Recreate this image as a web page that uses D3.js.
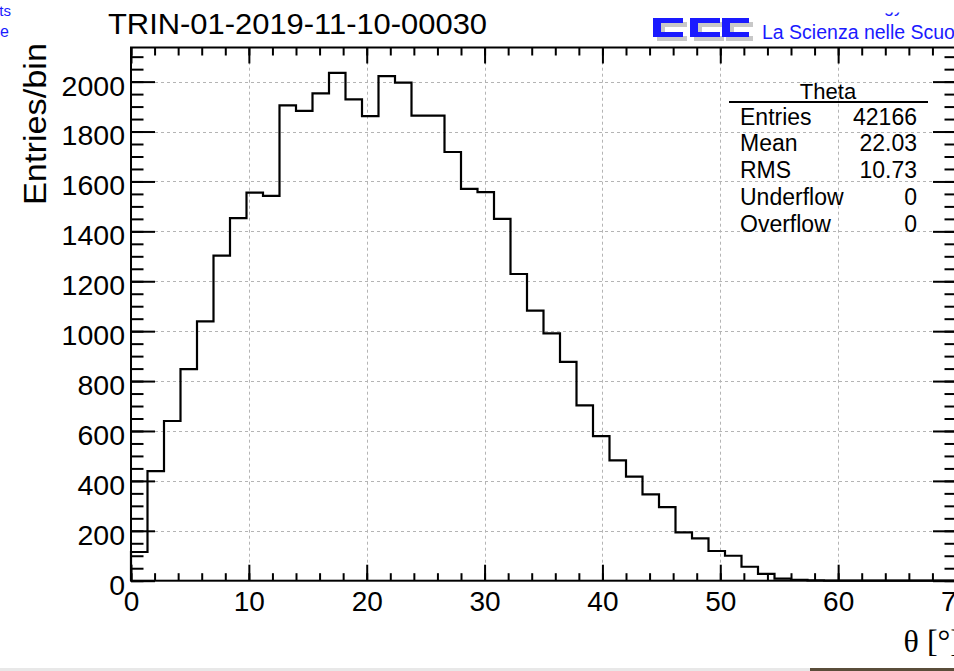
<!DOCTYPE html>
<html><head><meta charset="utf-8">
<script src="https://cdn.jsdelivr.net/npm/d3@7"></script>
<style>body{margin:0;background:#fff;overflow:hidden;} svg{display:block;}</style>
</head><body>
<svg id="c" width="954" height="671"></svg>
<script>
// ---- data ----
const title = "TRIN-01-2019-11-10-00030";
const xTitle = "θ [°]";
const yTitle = "Entries/bin";
const binWidth = 1.4;
const xDomain = [0, 70];
const counts = [115, 439, 640, 848, 1039, 1303, 1453, 1555, 1542, 1905,
                1883, 1953, 2035, 1929, 1862, 2022, 1996, 1864, 1864, 1718,
                1570, 1557, 1450, 1229, 1082, 991, 877, 703, 579, 482,
                417, 346, 295, 194, 170, 119, 100, 56, 27, 8,
                3, 1, 0, 0, 0, 0, 0, 0, 0, 0];
const xMajorTicks = [0, 10, 20, 30, 40, 50, 60, 70];
const xMinorTicks = d3.range(0, 70.01, 2);
const yMajorTicks = [0, 200, 400, 600, 800, 1000, 1200, 1400, 1600, 1800, 2000];
const yMinorTicks = d3.range(0, 2101, 50);
const statsName = "Theta";
const statsLabels = ["Entries", "Mean", "RMS", "Underflow", "Overflow"];
const statsValues = ["42166", "22.03", "10.73", "0", "0"];
const logoText = "La Scienza nelle Scuola";

// ---- layout ----
const svg = d3.select("#c");
const F = "'Liberation Sans', Arial, Helvetica, sans-serif";
const L = 131, R = 956, B = 580.7, T = 47.5;
const yMax = d3.max(counts) * 1.05;
const x = d3.scaleLinear().domain(xDomain).range([L, R]);
const y = d3.scaleLinear().domain([0, yMax]).range([B, T]);

// grid
const grid = svg.append("g").attr("stroke", "#b4b4b4").attr("stroke-width", 1)
  .attr("stroke-dasharray", "3,3");
grid.selectAll("line.gx").data(xMajorTicks.filter(v => v > 0 && v < 70)).join("line")
  .attr("x1", d => Math.round(x(d)) + 0.5).attr("x2", d => Math.round(x(d)) + 0.5)
  .attr("y1", B).attr("y2", T);
grid.selectAll("line.gy").data(yMajorTicks.filter(v => v > 0)).join("line")
  .attr("y1", d => Math.round(y(d)) + 0.5).attr("y2", d => Math.round(y(d)) + 0.5)
  .attr("x1", L).attr("x2", R);

// histogram
const pts = [[0, 0]].concat(counts.map((c, i) => [i * binWidth, c]))
  .concat([[xDomain[1], counts[counts.length - 1]], [xDomain[1], 0]]);
const line = d3.line().x(d => x(d[0])).y(d => y(d[1])).curve(d3.curveStepAfter);
svg.append("path").attr("d", line(pts)).attr("fill", "none")
  .attr("stroke", "#000").attr("stroke-width", 2.2);

// axes
function styleAxis(g, fs) {
  g.select(".domain").remove();
  g.selectAll("line").attr("stroke", "#000").attr("stroke-width", 2);
  g.selectAll("text").attr("font-family", F).attr("font-size", fs).attr("fill", "#000");
}
// bottom
const gB = svg.append("g").attr("transform", `translate(0,${B})`);
gB.call(d3.axisBottom(x).tickValues(xMinorTicks).tickSize(-7.5).tickFormat(""));
styleAxis(gB);
const gB2 = svg.append("g").attr("transform", `translate(0,${B})`);
gB2.call(d3.axisBottom(x).tickValues(xMajorTicks).tickSize(-16).tickPadding(10.5).tickFormat(d3.format("d")));
styleAxis(gB2, 28);
// top
const gT = svg.append("g").attr("transform", `translate(0,${T})`);
gT.call(d3.axisTop(x).tickValues(xMinorTicks).tickSize(-8).tickFormat(""));
styleAxis(gT);
const gT2 = svg.append("g").attr("transform", `translate(0,${T})`);
gT2.call(d3.axisTop(x).tickValues(xMajorTicks).tickSize(-16).tickFormat(""));
styleAxis(gT2);
// left
const gL = svg.append("g").attr("transform", `translate(${L},0)`);
gL.call(d3.axisLeft(y).tickValues(yMinorTicks).tickSize(-12.5).tickFormat(""));
styleAxis(gL);
const gL2 = svg.append("g").attr("transform", `translate(${L},0)`);
gL2.call(d3.axisLeft(y).tickValues(yMajorTicks).tickSize(-24).tickPadding(6).tickFormat(d3.format("d")));
styleAxis(gL2, 28.5);
gL2.selectAll("text").attr("dy", "0.47em");
// right
const gR = svg.append("g").attr("transform", `translate(${R},0)`);
gR.call(d3.axisRight(y).tickValues(yMinorTicks).tickSize(-11.5).tickFormat(""));
styleAxis(gR);
const gR2 = svg.append("g").attr("transform", `translate(${R},0)`);
gR2.call(d3.axisRight(y).tickValues(yMajorTicks).tickSize(-23).tickFormat(""));
styleAxis(gR2);

// frame
svg.append("rect").attr("x", L).attr("y", T).attr("width", R - L).attr("height", B - T)
  .attr("fill", "none").attr("stroke", "#000").attr("stroke-width", 2);

// axis titles
svg.append("text").attr("transform", "translate(46,124) rotate(-90)")
  .attr("text-anchor", "middle").attr("font-family", F).attr("font-size", 32)
  .attr("textLength", 162).attr("lengthAdjust", "spacingAndGlyphs")
  .text(yTitle);
svg.append("text").attr("x", 961).attr("y", 651.5).attr("text-anchor", "end")
  .attr("font-family", "'Liberation Serif', 'Times New Roman', serif").attr("font-size", 32)
  .text(xTitle);

// title
svg.append("text").attr("x", 108).attr("y", 33.5).attr("font-family", F)
  .attr("font-size", 29).attr("textLength", 379).attr("lengthAdjust", "spacingAndGlyphs")
  .text(title);

// stats box
svg.append("text").attr("x", 828).attr("y", 98.5).attr("text-anchor", "middle")
  .attr("font-family", F).attr("font-size", 22).text(statsName);
svg.append("line").attr("x1", 729).attr("x2", 928).attr("y1", 102).attr("y2", 102)
  .attr("stroke", "#000").attr("stroke-width", 2);
const rowY = d3.scaleLinear().domain([0, 4]).range([124.5, 232]);
svg.append("g").selectAll("text").data(statsLabels).join("text")
  .attr("x", 740).attr("y", (d, i) => rowY(i)).attr("font-family", F).attr("font-size", 23)
  .text(d => d);
svg.append("g").selectAll("text").data(statsValues).join("text")
  .attr("x", 917).attr("y", (d, i) => rowY(i)).attr("text-anchor", "end")
  .attr("font-family", F).attr("font-size", 23).text(d => d);

// logo (top right)
const blue = "#1a1aff";
const logo = svg.append("g");
[[653, 30], [690, 30], [722, 27]].forEach(([lx, w]) => {
  [["#c8c8c8", 4, 4], [blue, 0, 0]].forEach(([col, dx, dy]) => {
    const g = logo.append("g").attr("fill", col).attr("transform", `translate(${lx + dx},${18 + dy})`);
    g.append("rect").attr("x", 0).attr("y", 0).attr("width", w).attr("height", 5);
    g.append("rect").attr("x", 0).attr("y", 0).attr("width", 8).attr("height", 19);
    g.append("rect").attr("x", 0).attr("y", 14).attr("width", w).attr("height", 5);
  });
});
svg.append("text").attr("x", 762).attr("y", 39.3).attr("font-family", F).attr("font-size", 19.5)
  .attr("fill", blue).text(logoText);
svg.append("text").attr("x", 884).attr("y", 12).attr("font-family", F).attr("font-size", 18)
  .attr("fill", blue).text("gy");
svg.append("rect").attr("x", 870).attr("y", 0).attr("width", 40).attr("height", 12.5).attr("fill", "#fff");
// left edge fragments
svg.append("text").attr("x", 11).attr("y", 16).attr("text-anchor", "end").attr("font-family", F)
  .attr("font-size", 15).attr("fill", blue).text("ts");
svg.append("text").attr("x", 9).attr("y", 37).attr("text-anchor", "end").attr("font-family", F)
  .attr("font-size", 16).attr("fill", blue).text("le");

// bottom strip
svg.append("rect").attr("x", 0).attr("y", 668).attr("width", 810).attr("height", 3).attr("fill", "#e8e8e8");
svg.append("rect").attr("x", 810).attr("y", 668).attr("width", 144).attr("height", 3).attr("fill", "#5a4d3a");
</script>
</body></html>
